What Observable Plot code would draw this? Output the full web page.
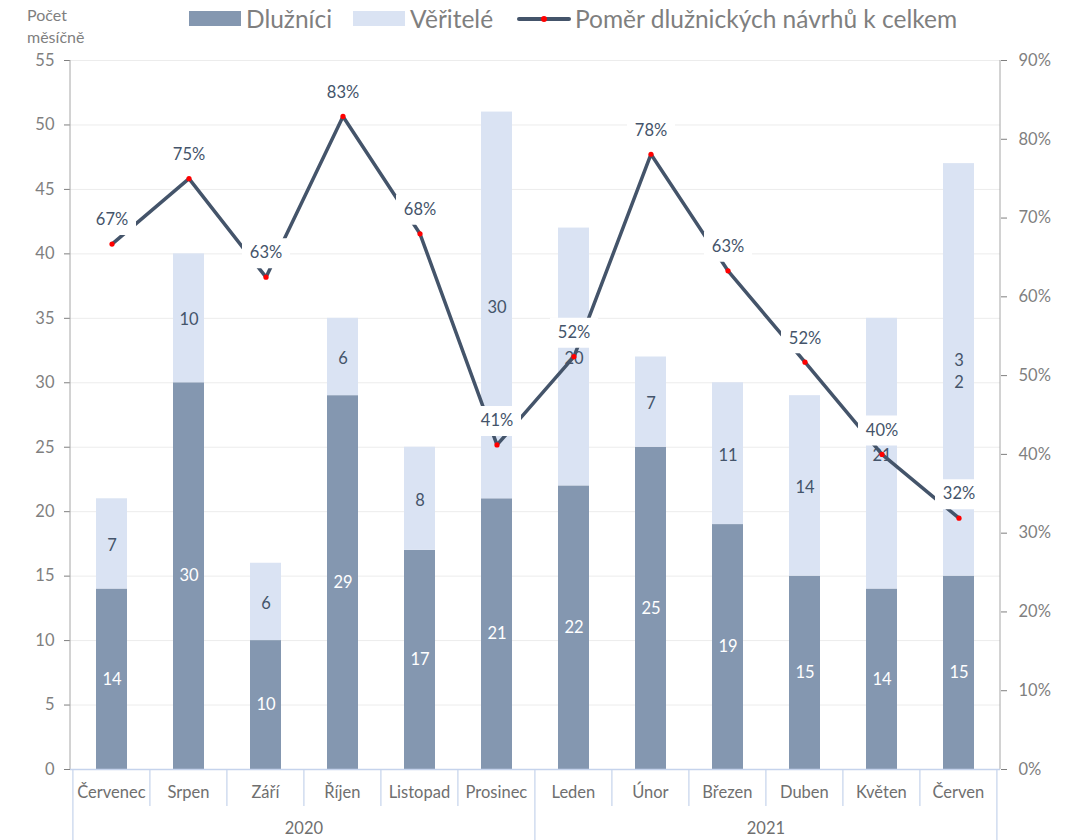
<!DOCTYPE html>
<html>
<head>
<meta charset="utf-8">
<script src="https://cdn.jsdelivr.net/npm/d3@7"></script>
<script src="https://cdn.jsdelivr.net/npm/@observablehq/plot@0.6"></script>
<style>
  body { margin: 0; background: #fff; font-family: Lato, "Open Sans", sans-serif; }
  #wrap { position: relative; width: 1066px; height: 840px; overflow: hidden; }
  .lg { position: absolute; z-index: 2; }
  .lgt { position: absolute; z-index: 2; font-size: 24.5px; color: #7f7f7f; line-height: 28px; top: 5px; white-space: nowrap; }
</style>
</head>
<body>
<div id="wrap">
  <div id="chart" style="position:absolute;left:0;top:40px;z-index:1"></div>
  <div id="ytitle" style="position:absolute;z-index:2;left:27px;top:4px;font-size:16px;line-height:22px;color:#7f7f7f">Počet<br>měsíčně</div>
  <div class="lg" style="left:189px;top:11px;width:52px;height:15px;background:#8497b0"></div>
  <div class="lgt" style="left:246px">Dlužníci</div>
  <div class="lg" style="left:353px;top:11px;width:52px;height:15px;background:#dae3f3"></div>
  <div class="lgt" style="left:410px">Věřitelé</div>
  <div class="lg" style="left:517px;top:17px;width:54px;height:4px;background:#44546a;border-radius:2px"></div>
  <div class="lg" style="left:541px;top:16px;width:6px;height:6px;background:#ff0000;border-radius:3px"></div>
  <div class="lgt" style="left:575px">Poměr dlužnických návrhů k celkem</div>
</div>
<script>
// ---- data ----
const months = ["Červenec","Srpen","Září","Říjen","Listopad","Prosinec","Leden","Únor","Březen","Duben","Květen","Červen"];
const monthYear = ["2020","2020","2020","2020","2020","2020","2021","2021","2021","2021","2021","2021"];
const years = ["2020","2021"];
const dluznici = [14,30,10,29,17,21,22,25,19,15,14,15];
const veritele = [7,10,6,6,8,30,20,7,11,14,21,32];
const veriteleLabels = ["7","10","6","6","8","30","20","7","11","14","21","3\n2"];
const pomer = [66.7,75,62.5,82.9,68,41.2,52.4,78.1,63.3,51.7,40,31.9];
const pomerLabels = ["67%","75%","63%","83%","68%","41%","52%","78%","63%","52%","40%","32%"];
const leftTicks = [0,5,10,15,20,25,30,35,40,45,50,55];
const rightTicks = [0,10,20,30,40,50,60,70,80,90];
const seriesNames = ["Dlužníci","Věřitelé"];
const seriesColors = ["#8497b0","#dae3f3"];

// ---- layout ----
const W = 1066, H = 800, ML = 70, MR = 66, MT = 20, MB = 71;
const Y_MAX = 55, P_MAX = 90;
const PAD_INNER = 0.6, PAD_OUTER = 0.3;
const FS = 16.5;
const toLeft = p => p * Y_MAX / P_MAX;

const bars = months.flatMap((m, i) => [
  {month: m, series: seriesNames[0], y1: 0, y2: dluznici[i]},
  {month: m, series: seriesNames[1], y1: dluznici[i], y2: dluznici[i] + veritele[i]}
]);
const dText = months.map((m, i) => ({month: m, y: dluznici[i] / 2, text: String(dluznici[i])}));
const vText = months.map((m, i) => ({month: m, y: dluznici[i] + veritele[i] / 2, text: veriteleLabels[i]}));
const line = months.map((m, i) => ({month: m, y: toLeft(pomer[i]), text: pomerLabels[i]}));

const boxSymbol = {draw(ctx, size) { ctx.rect(-24, -15, 48, 30); }};

function categoryAxis(index, scales, values, dims) {
  const x = scales.x;
  const step = x(months[1]) - x(months[0]);
  const n = months.length;
  const edge = i => (i < n ? x(months[i]) : x(months[n - 1]) + step) - step * PAD_INNER / 2;
  const y0 = dims.height - dims.marginBottom;
  const left = dims.marginLeft, right = dims.width - dims.marginRight;
  const g = d3.create("svg:g");
  const axisColor = "#a6a6a6", catColor = "#c5d3ec";
  g.append("line").attr("x1", left).attr("x2", left).attr("y1", dims.marginTop).attr("y2", y0).attr("stroke", axisColor);
  g.append("line").attr("x1", right).attr("x2", right).attr("y1", dims.marginTop).attr("y2", y0).attr("stroke", axisColor);
  g.append("line").attr("x1", left).attr("x2", right).attr("y1", y0 + 0.5).attr("y2", y0 + 0.5).attr("stroke", catColor).attr("stroke-width", 1.5);
  for (let i = 0; i <= n; i++) {
    const isYear = i === 0 || i === n || monthYear[i] !== monthYear[i - 1];
    g.append("line").attr("x1", edge(i)).attr("x2", edge(i)).attr("y1", y0)
      .attr("y2", isYear ? dims.height : y0 + 37).attr("stroke", catColor).attr("stroke-width", 1.2);
  }
  months.forEach((m, i) => {
    g.append("text").attr("x", (edge(i) + edge(i + 1)) / 2).attr("y", y0 + 25)
      .attr("text-anchor", "middle").attr("dominant-baseline", "middle")
      .attr("fill", "#6f6f6f").attr("font-size", FS).text(m);
  });
  years.forEach(yr => {
    const idx = monthYear.map((v, i) => v === yr ? i : -1).filter(i => i >= 0);
    const a = edge(idx[0]), b = edge(idx[idx.length - 1] + 1);
    g.append("text").attr("x", (a + b) / 2).attr("y", y0 + 61)
      .attr("text-anchor", "middle").attr("dominant-baseline", "middle")
      .attr("fill", "#6f6f6f").attr("font-size", FS).text(yr);
  });
  return g.node();
}

const chart = Plot.plot({
  width: W, height: H,
  marginLeft: ML, marginRight: MR, marginTop: MT, marginBottom: MB,
  style: {fontFamily: "Lato, 'Open Sans', sans-serif", fontSize: FS + "px", background: "transparent", overflow: "visible"},
  x: {type: "band", domain: months, paddingInner: PAD_INNER, paddingOuter: PAD_OUTER, axis: null},
  y: {domain: [0, Y_MAX], axis: null},
  color: {domain: seriesNames, range: seriesColors},
  marks: [
    Plot.ruleY(leftTicks.slice(1), {stroke: "#ececec"}),
    Plot.barY(bars, {x: "month", y1: "y1", y2: "y2", fill: "series"}),
    Plot.text(dText, {x: "month", y: "y", text: "text", fill: "white", fontSize: FS}),
    Plot.text(vText, {x: "month", y: "y", text: "text", fill: "#44546a", fontSize: FS, lineHeight: 1.35}),
    Plot.line(line, {x: "month", y: "y", stroke: "#44546a", strokeWidth: 3.5}),
    Plot.dot(line, {x: "month", y: "y", r: 2.6, fill: "#ff0000"}),
    Plot.dot(line, {x: "month", y: "y", symbol: boxSymbol, fill: "white", dy: -24}),
    Plot.text(line, {x: "month", y: "y", text: "text", fill: "#44546a", fontSize: FS, dy: -24}),
    Plot.axisY(leftTicks, {anchor: "left", tickSize: 6, tickPadding: 10, label: null, color: "#7f7f7f", fontSize: FS}),
    Plot.axisY(rightTicks.map(toLeft), {anchor: "right", tickSize: 6, tickPadding: 12, label: null, color: "#7f7f7f", fontSize: FS,
      tickFormat: v => Math.round(v * P_MAX / Y_MAX) + "%"}),
    categoryAxis
  ]
});
document.getElementById("chart").appendChild(chart);
</script>
</body>
</html>
